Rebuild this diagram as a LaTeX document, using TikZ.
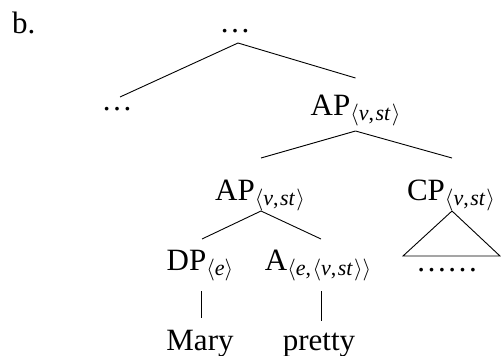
\RequirePackage{fix-cm}
\documentclass[tikz,border=0pt]{standalone}
\usepackage{fontspec}
\setmainfont{Liberation Serif}
\newcommand\tsub[1]{\raisebox{-5pt}{\fontsize{22}{22}\selectfont #1}}
\newcommand\lang{$\langle$}
\newcommand\rang{$\rangle$}
\newcommand\cm{,\kern1.5pt}
\begin{document}
\begin{tikzpicture}[x=1pt,y=-1pt,
  lbl/.style={inner sep=0pt,anchor=base,font=\fontsize{31}{36}\selectfont},
  edge/.style={line width=0.9pt}]
\useasboundingbox (0,0) rectangle (501,356);
\node[lbl,anchor=base west] (b) at (12,33) {b.};
\node[lbl] (top) at (235,32) {…};
\node[lbl] (ld) at (117,110) {…};
\node[lbl] (ap1) at (355.5,115) {AP\tsub{\lang\textit{v}\cm\textit{st}\kern1pt\rang}};
\node[lbl] (ap2) at (260,200) {AP\tsub{\lang\textit{v}\cm\textit{st}\kern1pt\rang}};
\node[lbl] (cp) at (451,200) {CP\tsub{\lang\textit{v}\cm\textit{st}\kern1pt\rang}};
\node[lbl] (dp) at (200,270) {DP\tsub{\lang\textit{e}\rang}};
\node[lbl] (a) at (318,270) {A\tsub{\lang\textit{e}\cm\lang\textit{v}\cm\textit{st}\kern1pt\rang\rang}};
\node[lbl] (mary) at (200,350) {Mary};
\node[lbl] (pretty) at (319,350) {pretty};
\node[lbl] (cpd) at (447,271) {……};
\draw[edge] ([shift={(3,11)}]top.base) -- ([shift={(3,-13)}]ld.base);
\draw[edge] ([shift={(3,11)}]top.base) -- ([shift={(0,-37)}]ap1.base);
\draw[edge] ([shift={(0,16)}]ap1.base) -- ([shift={(1,-42)}]ap2.base);
\draw[edge] ([shift={(0,16)}]ap1.base) -- ([shift={(1,-42)}]cp.base);
\draw[edge] ([shift={(1,11)}]ap2.base) -- ([shift={(2,-31)}]dp.base);
\draw[edge] ([shift={(1,11)}]ap2.base) -- ([shift={(3,-31)}]a.base);
\draw[edge] ([shift={(1,21)}]dp.base) -- ([shift={(1,-32)}]mary.base);
\draw[edge] ([shift={(3,21)}]a.base) -- ([shift={(2,-29)}]pretty.base);
\draw[edge,line join=miter] ([shift={(1,11)}]cp.base) -- ([shift={(-48,56)}]cp.base) -- ([shift={(49,56)}]cp.base) -- cycle;
\end{tikzpicture}
\end{document}
